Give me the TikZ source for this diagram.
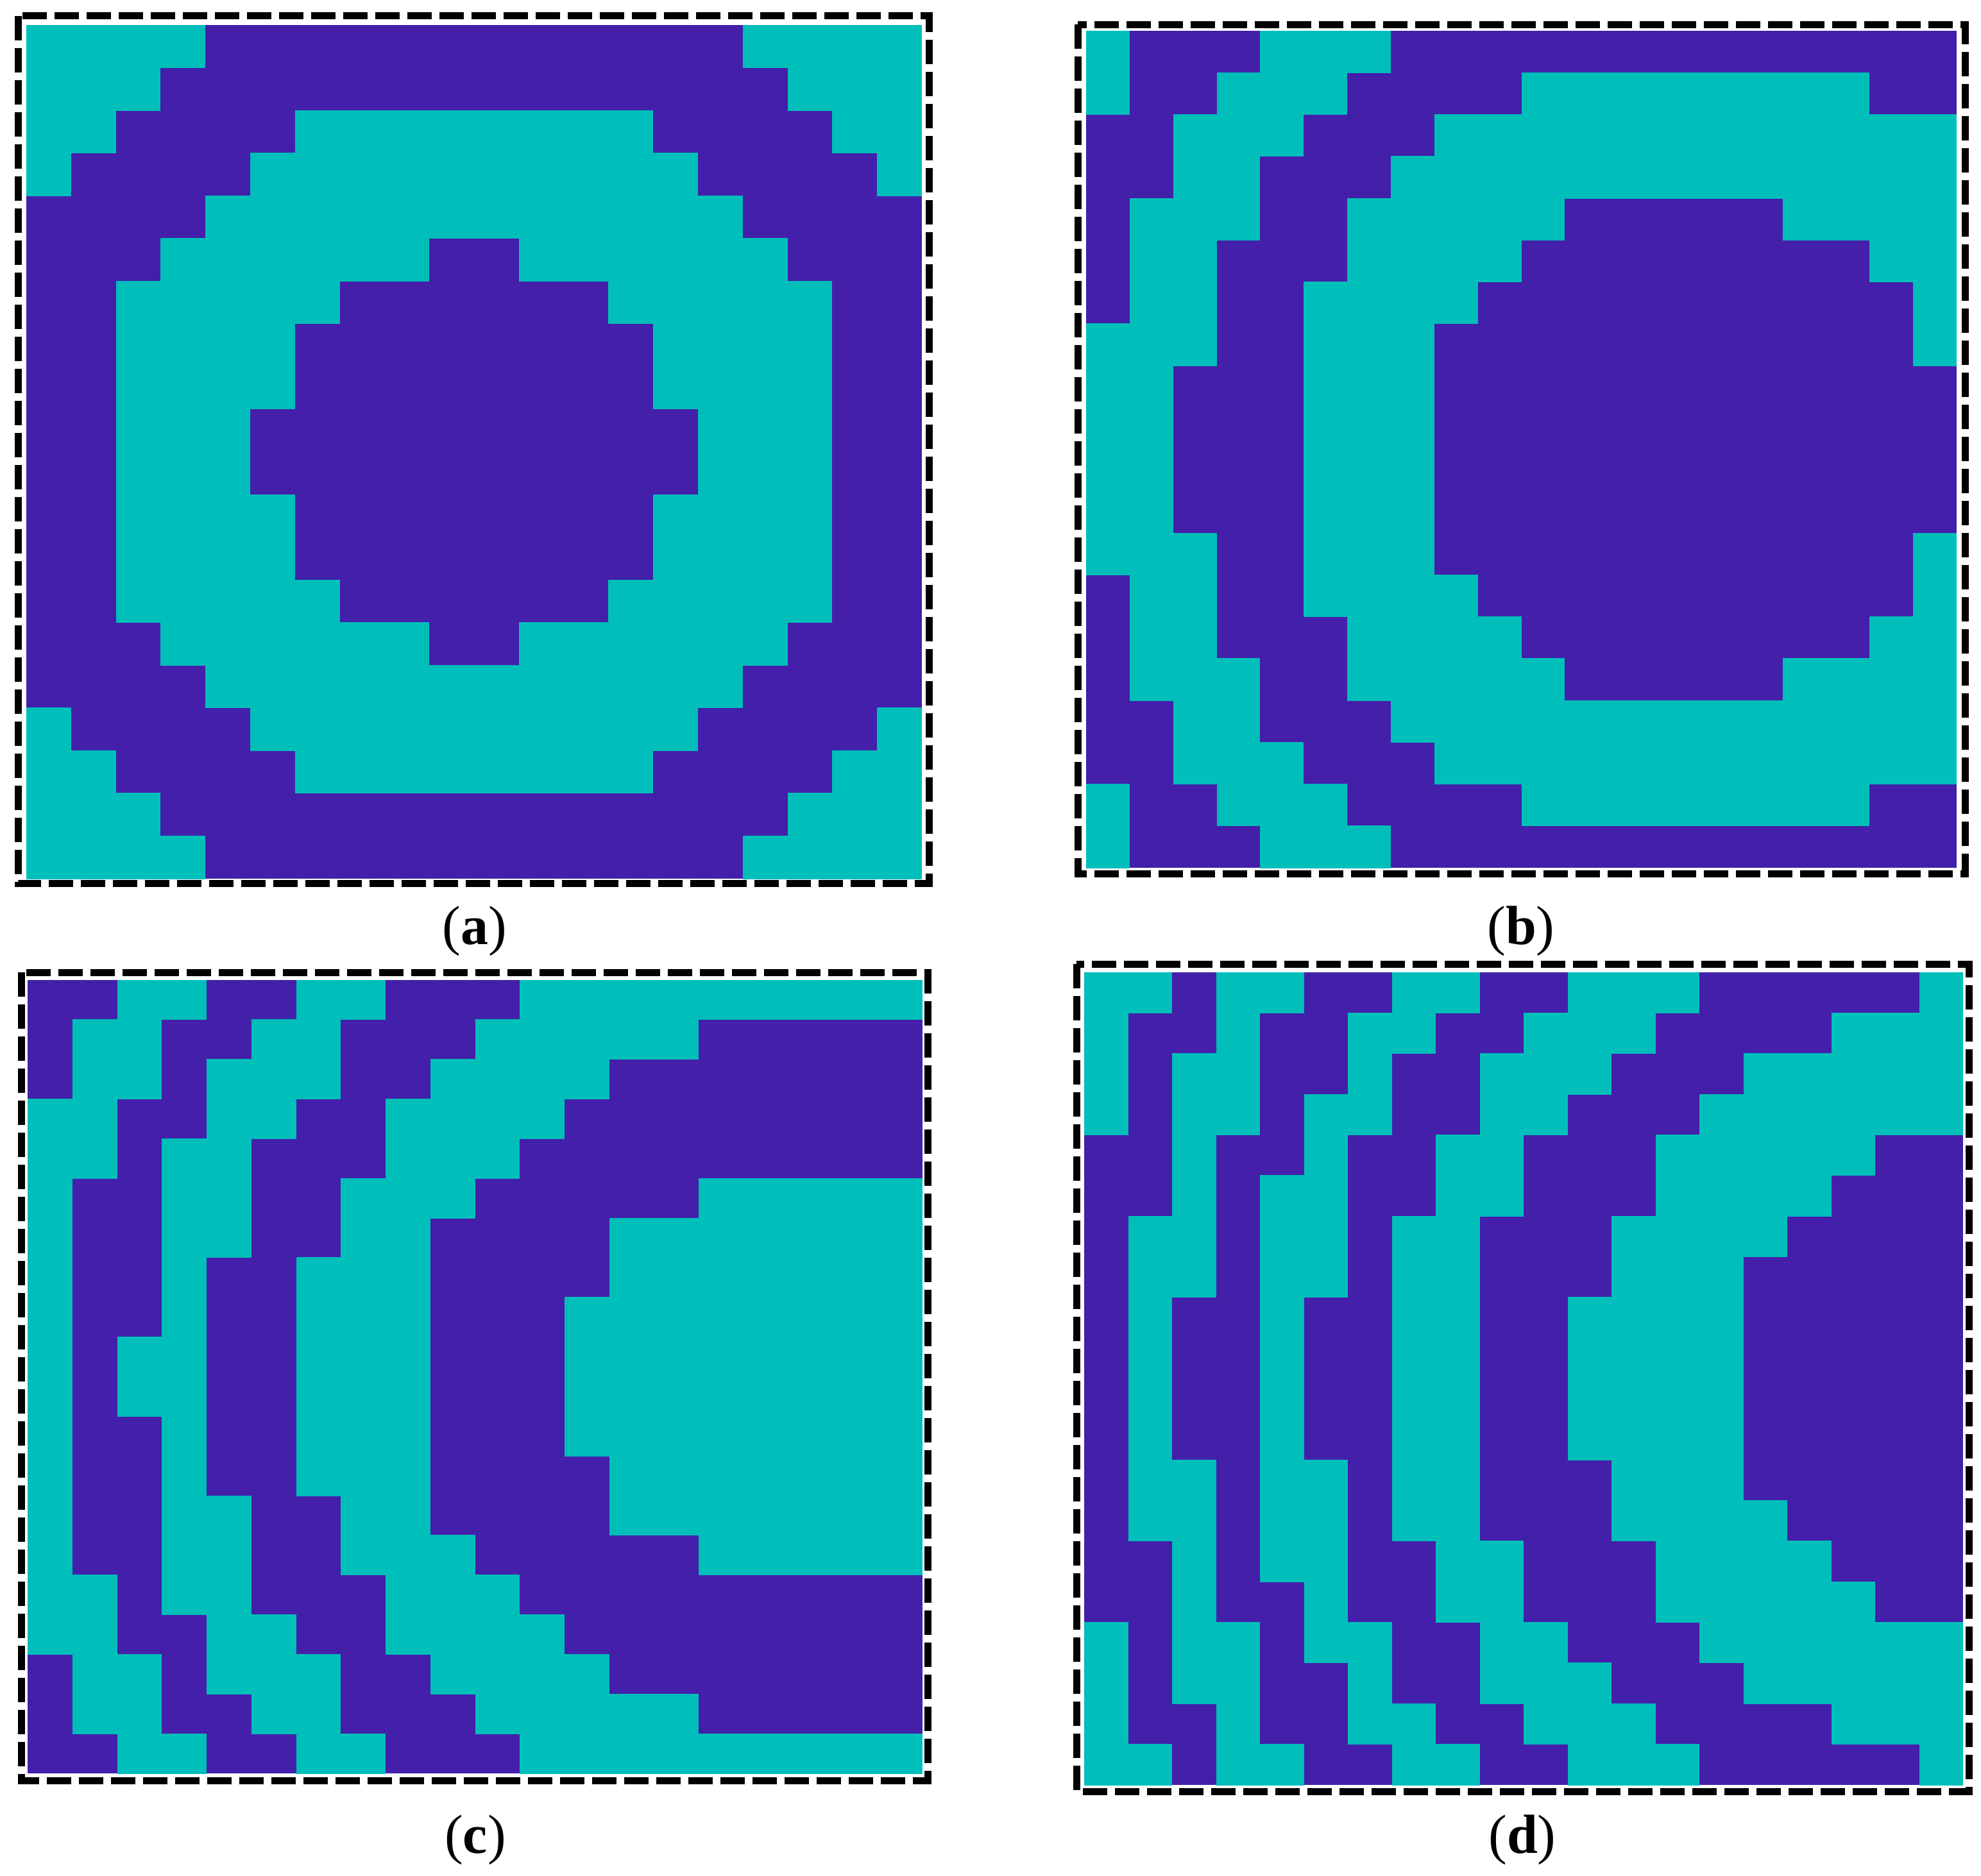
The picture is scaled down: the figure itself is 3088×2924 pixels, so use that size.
\documentclass[tikz,border=0pt]{standalone}
\usepackage{fontspec}
\setmainfont{Liberation Serif}
\definecolor{purp}{RGB}{67,31,170}
\definecolor{tealc}{RGB}{0,190,186}
\tikzset{
  panelframe/.style={draw=black, line width=11pt, dash pattern=on 38pt off 12pt},
  sublabel/.style={font=\fontsize{86}{96}\selectfont, anchor=base, inner sep=0pt}
}
\newcommand\gridpanel[5]{%
  \fill[purp] (#1,#2) rectangle ({#1+20*#3},{#2+20*#4});
  \foreach \r/\a/\b in {#5} {
    \fill[tealc] ({#1+\a*#3},{#2+\r*#4-0.5}) rectangle ({#1+(\b+1)*#3},{#2+(\r+1)*#4+0.5});
    \fill[tealc] ({#1+\a*#3},{#2+(19-\r)*#4-0.5}) rectangle ({#1+(\b+1)*#3},{#2+(20-\r)*#4+0.5});
  }
}
\begin{document}
\begin{tikzpicture}[x=1pt,y=-1pt]
\useasboundingbox (0,0) rectangle (3088,2924);
% panel (a)
\gridpanel{41}{39}{69.8}{66.55}{0/0/3,0/16/19,1/0/2,1/17/19,2/0/1,2/6/13,2/18/19,3/0/0,3/5/14,3/19/19,4/4/15,5/3/8,5/11/16,6/2/6,6/13/17,7/2/5,7/14/17,8/2/5,8/14/17,9/2/4,9/15/17}
\draw[panelframe] (28,24.5) rectangle (1448,1377);
% panel (b)
\gridpanel{1693}{48}{67.85}{65.25}{0/0/0,0/4/6,1/0/0,1/3/5,1/10/17,2/2/4,2/8/19,3/2/3,3/7/19,4/1/3,4/6/10,4/16/19,5/1/2,5/6/9,5/18/19,6/1/2,6/5/8,6/19/19,7/0/2,7/5/7,7/19/19,8/0/1,8/5/7,9/0/1,9/5/7}
\draw[panelframe] (1680,38) rectangle (3063,1362);
% panel (c)
\gridpanel{43}{1528}{69.75}{61.85}{0/2/3,0/6/7,0/11/19,1/1/2,1/5/6,1/10/14,2/1/2,2/4/6,2/9/12,3/0/1,3/4/5,3/8/11,4/0/1,4/3/4,4/8/10,5/0/0,5/3/4,5/7/9,5/15/19,6/0/0,6/3/4,6/7/8,6/13/19,7/0/0,7/3/3,7/6/8,7/13/19,8/0/0,8/3/3,8/6/8,8/12/19,9/0/0,9/2/3,9/6/8,9/12/19}
\draw[panelframe] (33,1516) rectangle (1446,2776);
% panel (d)
\gridpanel{1690}{1516}{68.5}{63.35}{0/0/1,0/3/4,0/7/8,0/11/13,0/19/19,1/0/0,1/3/3,1/6/7,1/10/12,1/17/19,2/0/0,2/2/3,2/6/6,2/9/11,2/15/19,3/0/0,3/2/3,3/5/6,3/9/10,3/14/19,4/2/2,4/5/5,4/8/9,4/13/17,5/2/2,5/4/5,5/8/9,5/13/16,6/1/2,6/4/5,6/7/8,6/12/15,7/1/2,7/4/5,7/7/8,7/12/14,8/1/1,8/4/4,8/7/8,8/11/14,9/1/1,9/4/4,9/7/8,9/11/14}
\draw[panelframe] (1678,1503) rectangle (3069,2793);
% labels
\node[sublabel] (la) at (740,1472) {(\textbf{a})};
\node[sublabel] (lb) at (2371,1472) {(\textbf{b})};
\node[sublabel] (lc) at (741,2889) {(\textbf{c})};
\node[sublabel] (ld) at (2373,2889) {(\textbf{d})};
\end{tikzpicture}
\end{document}
